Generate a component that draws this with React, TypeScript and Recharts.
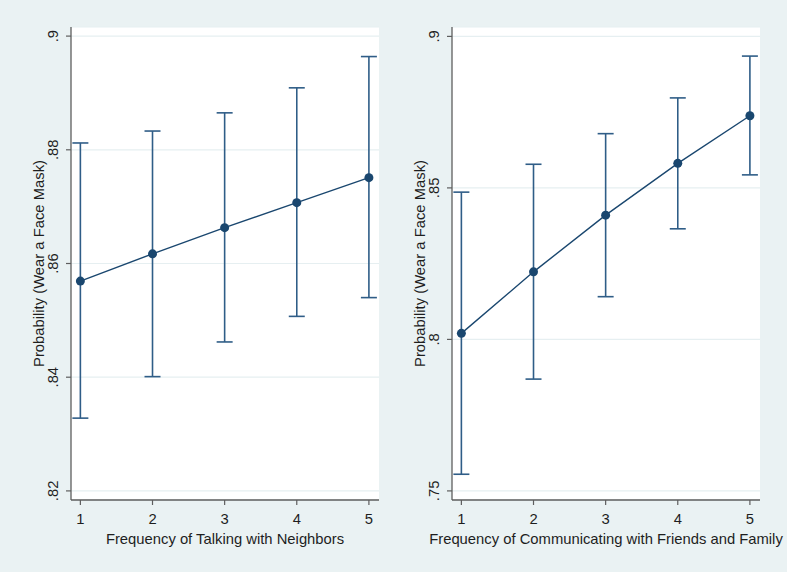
import {
  CartesianGrid,
  ComposedChart,
  ErrorBar,
  Label,
  Line,
  XAxis,
  YAxis,
} from 'recharts'

const levels = [1, 2, 3, 4, 5]

// predicted probability and 95% CI, talking with neighbors
const neighborsMargin = [0.8569, 0.8617, 0.8663, 0.8707, 0.8751]
const neighborsLower = [0.8328, 0.8401, 0.8462, 0.8507, 0.854]
const neighborsUpper = [0.8812, 0.8833, 0.8865, 0.8909, 0.8964]

// predicted probability and 95% CI, communicating with friends and family
const friendsMargin = [0.802, 0.8223, 0.841, 0.8581, 0.8738]
const friendsLower = [0.7555, 0.7869, 0.8141, 0.8365, 0.8543]
const friendsUpper = [0.8486, 0.8578, 0.8679, 0.8797, 0.8935]

const neighborsTicks = [0.82, 0.84, 0.86, 0.88, 0.9]
const friendsTicks = [0.75, 0.8, 0.85, 0.9]

const yTitle = 'Probability (Wear a Face Mask)'
const neighborsTitle = 'Frequency of Talking with Neighbors'
const friendsTitle = 'Frequency of Communicating with Friends and Family'

const NAVY = '#1a476f'
const CI = '#2f5d87'
const AXIS = '#5e5e5e'
const TEXT = '#1e1e1e'
const FONT = 14.8

const fmt = (v: number) => String(v).replace(/^0/, '')

const build = (m: number[], lo: number[], hi: number[]) =>
  levels.map((level, i) => ({
    level,
    margin: m[i],
    err: [m[i] - lo[i], hi[i] - m[i]],
  }))

function Panel({
  data,
  ticks,
  domain,
  xTitle,
  width,
  left,
  axisWidth,
  right,
}: {
  data: { level: number; margin: number; err: number[] }[]
  ticks: number[]
  domain: [number, number]
  xTitle: string
  width: number
  left: number
  axisWidth: number
  right: number
}) {
  return (
    <div style={{ position: 'absolute', left, top: 0 }}>
      <ComposedChart
        width={width}
        height={572}
        data={data}
        margin={{ top: 27, right, bottom: 0, left: 0 }}
      >
        <CartesianGrid
          vertical={false}
          fill="#ffffff"
          stroke="#e6eff1"
          strokeWidth={1.2}
        />
        <XAxis
          type="number"
          dataKey="level"
          domain={[0.87, 5.14]}
          ticks={levels}
          allowDataOverflow
          height={72}
          tickSize={5}
          tickMargin={8}
          axisLine={{ stroke: AXIS, strokeWidth: 1.3 }}
          tickLine={{ stroke: AXIS, strokeWidth: 1.2 }}
          tick={{ fontSize: FONT, fill: TEXT }}
        >
          <Label
            content={({ viewBox }: any) => (
              <text
                x={viewBox.x + viewBox.width / 2}
                y={543.5}
                textAnchor="middle"
                fontSize={FONT}
                fill={TEXT}
              >
                {xTitle}
              </text>
            )}
          />
        </XAxis>
        <YAxis
          type="number"
          domain={domain}
          ticks={ticks}
          allowDataOverflow
          width={axisWidth}
          tickSize={5}
          axisLine={{ stroke: AXIS, strokeWidth: 1.3 }}
          tickLine={{ stroke: AXIS, strokeWidth: 1.2 }}
          tick={(p: any) => (
            <text
              key={p.index}
              transform={`translate(${axisWidth - 13},${p.y}) rotate(-90)`}
              textAnchor="middle"
              fontSize={FONT}
              fill={TEXT}
            >
              {fmt(p.payload.value)}
            </text>
          )}
        >
          <Label
            content={({ viewBox }: any) => (
              <text
                transform={`translate(${axisWidth - 27.5},${
                  viewBox.y + viewBox.height / 2
                }) rotate(-90)`}
                textAnchor="middle"
                fontSize={FONT}
                fill={TEXT}
              >
                {yTitle}
              </text>
            )}
          />
        </YAxis>
        <Line
          type="linear"
          dataKey="margin"
          stroke={NAVY}
          strokeWidth={1.4}
          dot={{ r: 4.5, fill: NAVY, stroke: 'none' }}
          activeDot={false}
          isAnimationActive={false}
        >
          <ErrorBar
            dataKey="err"
            direction="y"
            width={8}
            stroke={CI}
            strokeWidth={1.6}
            isAnimationActive={false}
          />
        </Line>
      </ComposedChart>
    </div>
  )
}

export default function App() {
  return (
    <div
      style={{
        position: 'absolute',
        left: 0,
        top: 0,
        width: 787,
        height: 572,
        background: '#eaf2f3',
        fontFamily: '"Liberation Sans", Arial, sans-serif',
        overflow: 'hidden',
      }}
    >
      <Panel
        data={build(neighborsMargin, neighborsLower, neighborsUpper)}
        ticks={neighborsTicks}
        domain={[0.8184, 0.9016]}
        xTitle={neighborsTitle}
        width={395}
        left={0}
        axisWidth={71}
        right={16}
      />
      <Panel
        data={build(friendsMargin, friendsLower, friendsUpper)}
        ticks={friendsTicks}
        domain={[0.747, 0.9031]}
        xTitle={friendsTitle}
        width={392}
        left={395}
        axisWidth={57}
        right={27}
      />
    </div>
  )
}
